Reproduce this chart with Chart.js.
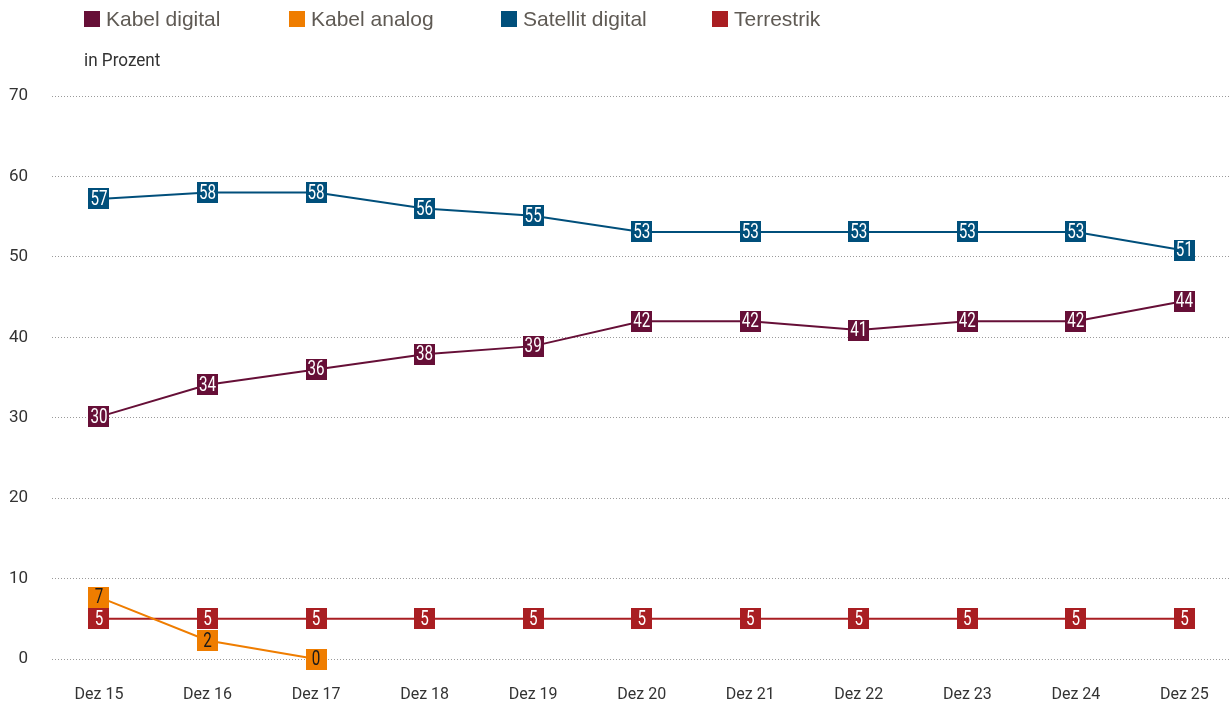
<!DOCTYPE html>
<html>
<head>
<meta charset="utf-8">
<script src="https://cdn.jsdelivr.net/npm/chart.js@4/dist/chart.umd.min.js"></script>
<style>
    html, body { margin: 0; padding: 0; background: #fff; }
    #wrap { position: relative; width: 1230px; height: 707px; }
    #chart { position: absolute; left: 0; top: 0; }
    .legend-item { position: absolute; top: 6px; font-family: "Liberation Sans", Arial, sans-serif; font-size: 21px; color: #5f5a54; white-space: nowrap; line-height: 26px; }
    .legend-item span { display: inline-block; width: 16px; height: 16px; margin-right: 6px; vertical-align: -1px; }
    #unit { position: absolute; left: 84px; top: 48px; font-family: Roboto, sans-serif; font-size: 19px; color: #333; transform: scaleX(0.9); transform-origin: left center; }
</style>
</head>
<body>
<div id="wrap">
    <canvas id="chart" width="1230" height="707"></canvas>
    <div id="legend"></div>
    <div id="unit">in Prozent</div>
</div>
<script>
// Categories
const categories = ['Dez 15', 'Dez 16', 'Dez 17', 'Dez 18', 'Dez 19', 'Dez 20', 'Dez 21', 'Dez 22', 'Dez 23', 'Dez 24', 'Dez 25'];

// Series values (as plotted)
const kabelDigital = [30.1, 34.1, 36.0, 37.9, 38.9, 42.0, 42.0, 40.9, 42.0, 42.0, 44.5];
const kabelAnalog = [7.7, 2.3, 0];
const satellitDigital = [57.2, 58.0, 58.0, 56.0, 55.1, 53.1, 53.1, 53.1, 53.1, 53.1, 50.8];
const terrestrik = [5, 5, 5, 5, 5, 5, 5, 5, 5, 5, 5];

// Printed labels
const kabelDigitalLabels = [30, 34, 36, 38, 39, 42, 42, 41, 42, 42, 44];
const kabelAnalogLabels = [7, 2, 0];
const satellitDigitalLabels = [57, 58, 58, 56, 55, 53, 53, 53, 53, 53, 51];
const terrestrikLabels = [5, 5, 5, 5, 5, 5, 5, 5, 5, 5, 5];

// Y ticks
const yTicks = [0, 10, 20, 30, 40, 50, 60, 70];

const seriesNames = ['Kabel digital', 'Kabel analog', 'Satellit digital', 'Terrestrik'];
const seriesColors = ['#660f37', '#ef7d00', '#004f7b', '#a91e22'];
const seriesTextColors = ['#fff', '#1a1a1a', '#fff', '#fff'];
const seriesValues = [kabelDigital, kabelAnalog, satellitDigital, terrestrik];
const seriesLabels = [kabelDigitalLabels, kabelAnalogLabels, satellitDigitalLabels, terrestrikLabels];

const tickFont = 'Roboto, sans-serif';

// Legend (HTML)
const legendLefts = [84, 289, 501, 712];
const legend = document.getElementById('legend');
seriesNames.forEach((name, i) => {
    const item = document.createElement('div');
    item.className = 'legend-item';
    item.style.left = legendLefts[i] + 'px';
    item.innerHTML = '<span style="background:' + seriesColors[i] + '"></span>' + name;
    legend.appendChild(item);
});

// Value boxes on each point
const boxLabels = {
    id: 'boxLabels',
    afterDatasetsDraw(chart) {
        const ctx = chart.ctx;
        chart.data.datasets.forEach((ds, di) => {
            const meta = chart.getDatasetMeta(di);
            meta.data.forEach((pt, i) => {
                const size = 21;
                ctx.save();
                ctx.fillStyle = seriesColors[di];
                ctx.fillRect(Math.round(pt.x - size / 2), Math.round(pt.y - size / 2), size, size);
                // condensed look: squeeze text horizontally
                ctx.translate(pt.x, pt.y + 1);
                ctx.scale(0.76, 1);
                ctx.font = '20px ' + tickFont;
                ctx.textAlign = 'center';
                ctx.textBaseline = 'middle';
                ctx.fillStyle = seriesTextColors[di];
                ctx.fillText(String(seriesLabels[di][i]), 0, 0);
                ctx.restore();
            });
        });
    }
};

const datasets = seriesValues.map((vals, i) => ({
    label: seriesNames[i],
    data: vals.map((v, j) => ({ x: j, y: v })),
    borderColor: seriesColors[i],
    backgroundColor: seriesColors[i],
    borderWidth: 2,
    pointRadius: 0,
    tension: 0,
    clip: false
}));

new Chart(document.getElementById('chart'), {
    type: 'line',
    data: { datasets: datasets },
    options: {
        responsive: false,
        animation: false,
        events: [],
        layout: { padding: { top: 96, right: 0, bottom: 0, left: 0 } },
        plugins: {
            legend: { display: false },
            tooltip: { enabled: false }
        },
        scales: {
            x: {
                type: 'linear',
                min: -0.433,
                max: 10.42,
                afterBuildTicks(scale) {
                    scale.ticks = categories.map((c, i) => ({ value: i }));
                },
                afterFit(scale) {
                    scale.height = 48;
                    scale.paddingLeft = 0;
                    scale.paddingRight = 0;
                },
                ticks: {
                    padding: 18,
                    color: '#333',
                    font: { family: tickFont, size: 16 },
                    maxRotation: 0,
                    autoSkip: false,
                    callback: (v) => categories[v]
                },
                grid: { display: false },
                border: { display: false }
            },
            y: {
                min: 0,
                max: 70,
                afterBuildTicks(scale) {
                    scale.ticks = yTicks.map(v => ({ value: v }));
                },
                afterFit(scale) {
                    scale.width = 52;
                    scale.paddingTop = 0;
                    scale.paddingBottom = 0;
                },
                ticks: {
                    padding: 24,
                    color: '#333',
                    font: { family: tickFont, size: 17 }
                },
                grid: {
                    color: '#9a9a9a',
                    lineWidth: 1,
                    drawTicks: false
                },
                border: { display: false, dash: [1, 2] }
            }
        }
    },
    plugins: [boxLabels]
});
</script>
</body>
</html>
